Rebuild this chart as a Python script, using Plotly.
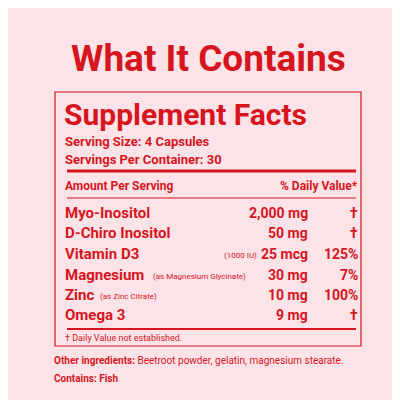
import plotly.graph_objects as go

RED = "#d7151f"
BG = "#fbe3e7"
FONT = "Roboto, sans-serif"

nutrients = ["Myo-Inositol", "D-Chiro Inositol", "Vitamin D3", "Magnesium", "Zinc", "Omega 3"]
notes = ["", "", "", "(as Magnesium Glycinate)", "(as Zinc Citrate)", ""]
iu_notes = ["", "", "(1000 IU)", "", "", ""]
amounts = ["2,000 mg", "50 mg", "25 mcg", "30 mg", "10 mg", "9 mg"]
daily_values = ["†", "†", "125%", "7%", "100%", "†"]
row_y = [205, 225, 246, 267, 287, 307]
note_x = [0, 0, 0, 143, 90, 0]

fig = go.Figure()
ann = []


def txt(x, y, s, size, anchor="left", bold=True):
    ann.append(dict(x=x, y=y, xref="x", yref="y", text=f"<b>{s}</b>" if bold else s,
                    showarrow=False, xanchor=anchor, yanchor="middle",
                    font=dict(family=FONT, size=size, color=RED)))


txt(200, 50, "What It Contains", 37, "center")
txt(54, 106, "Supplement Facts", 30)
txt(55, 133, "Serving Size: 4 Capsules", 13)
txt(55, 151, "Servings Per Container: 30", 13)
txt(55, 178, "Amount Per Serving", 12)
txt(352, 178, "% Daily Value*", 12, "right")

for i, name in enumerate(nutrients):
    y = row_y[i]
    txt(55, y, name, 15)
    if notes[i]:
        txt(note_x[i], y + 1, notes[i], 8, bold=False)
    if iu_notes[i]:
        txt(251, y + 1, iu_notes[i], 8, "right", bold=False)
    txt(302, y, amounts[i], 14, "right")
    txt(352, y, daily_values[i], 14, "right")

txt(55, 330, "† Daily Value not established.", 9, bold=False)
ann.append(dict(x=44, y=352, xref="x", yref="y", showarrow=False, xanchor="left",
                text="<b>Other ingredients:</b> Beetroot powder, gelatin, magnesium stearate.",
                font=dict(family=FONT, size=10, color=RED)))
txt(44, 370, "Contains: Fish", 10)

shapes = [
    dict(type="rect", x0=47, x1=353, y0=84, y1=338, line=dict(color=RED, width=1.2)),
    dict(type="line", x0=59, x1=348, y0=163, y1=163, line=dict(color=RED, width=3)),
    dict(type="line", x0=59, x1=348, y0=190, y1=190, line=dict(color=RED, width=1)),
    dict(type="line", x0=59, x1=348, y0=321, y1=321, line=dict(color=RED, width=2)),
]

fig.update_layout(
    width=400, height=400, margin=dict(l=0, r=0, t=0, b=0),
    paper_bgcolor=BG, plot_bgcolor=BG,
    xaxis=dict(range=[0, 400], visible=False, fixedrange=True),
    yaxis=dict(range=[400, 0], visible=False, fixedrange=True),
    annotations=ann, shapes=shapes, showlegend=False,
)
fig.write_html("out.html")
